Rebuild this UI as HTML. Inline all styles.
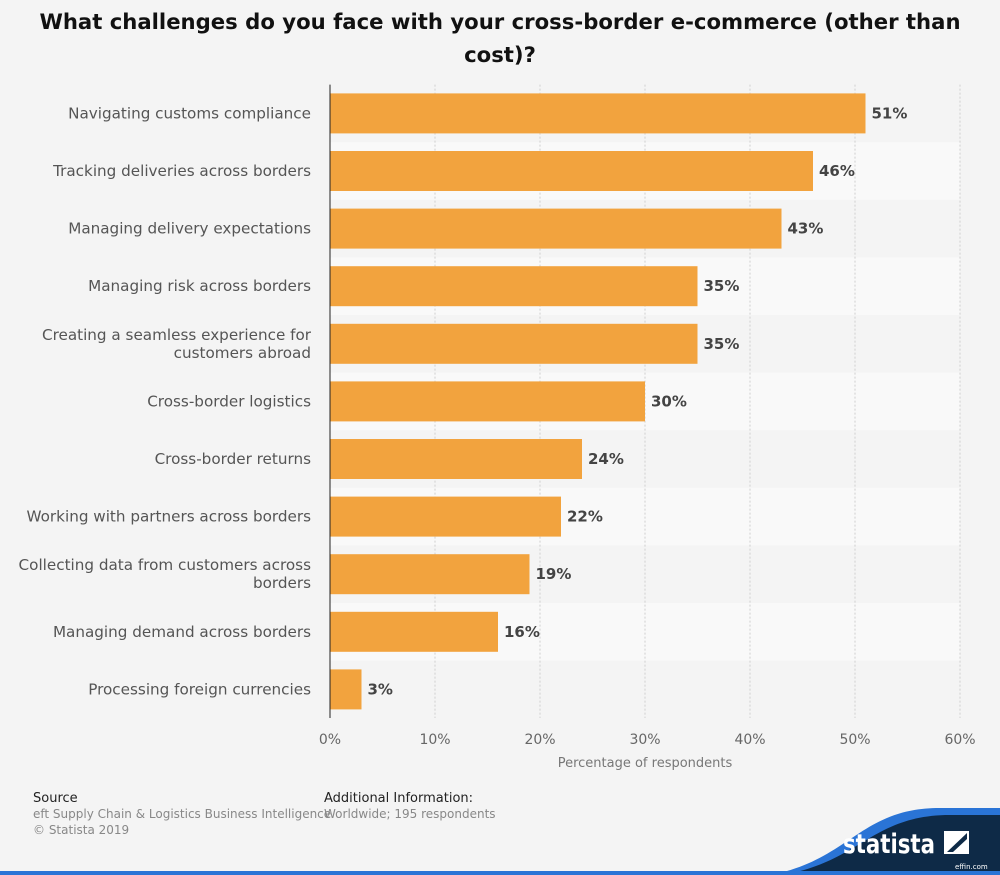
<!DOCTYPE html>
<html><head><meta charset="utf-8"><style>
body{margin:0;background:#f4f4f4;font-family:"DejaVu Sans","Liberation Sans",sans-serif;}
#wrap{position:relative;width:1000px;height:875px;overflow:hidden;background:#f4f4f4}
</style></head><body>
<div id="wrap">
<svg id="chart" width="1000" height="875" style="position:absolute;left:0;top:0"></svg>
</div>
<script>
const categories=["Navigating customs compliance","Tracking deliveries across borders","Managing delivery expectations","Managing risk across borders","Creating a seamless experience for|customers abroad","Cross-border logistics","Cross-border returns","Working with partners across borders","Collecting data from customers across|borders","Managing demand across borders","Processing foreign currencies"];
const values=[51,46,43,35,35,30,24,22,19,16,3];
const ticks=[0,10,20,30,40,50,60];
const NS="http://www.w3.org/2000/svg";
const svg=document.getElementById('chart');
const x0=330,x1=960,top0=84.6,step=57.6,barH=40;
const xs=v=>x0+(v/60)*(x1-x0);
const yc=i=>top0+step*i+step/2;
function mk(t,a,p){const e=document.createElementNS(NS,t);for(const k in a)e.setAttribute(k,a[k]);(p||svg).appendChild(e);return e;}
// title
let t=mk('text',{x:500,y:29,'text-anchor':'middle','font-size':21.2,'font-weight':'bold',fill:'#111'});
t.textContent="What challenges do you face with your cross-border e-commerce (other than";


t=mk('text',{x:500,y:62,'text-anchor':'middle','font-size':21.2,'font-weight':'bold',fill:'#111'});
t.textContent="cost)?";


// bands
categories.forEach((c,i)=>{if(i%2==1){const r=mk('rect',{x:x0,y:top0+step*i,width:x1-x0,height:step,fill:'#f9f9f9'});

}});
// grid
ticks.forEach(v=>{if(v>0){const l=mk('line',{x1:xs(v),x2:xs(v),y1:top0,y2:718,stroke:'#cfcfcf','stroke-dasharray':'2,2'});

}
const tx=mk('text',{x:xs(v),y:744,'text-anchor':'middle','font-size':14,fill:'#666'});tx.textContent=v+'%';

});
const at=mk('text',{x:645,y:767,'text-anchor':'middle','font-size':13,fill:'#777'});at.textContent="Percentage of respondents";


// bars
categories.forEach((c,i)=>{
const b=mk('rect',{x:x0,y:yc(i)-barH/2,width:xs(values[i])-x0,height:barH,fill:'#f2a33e'});


const v=mk('text',{x:xs(values[i])+6,y:yc(i)+5,'font-size':15,'font-weight':'bold',fill:'#444'});v.textContent=values[i]+'%';


const lines=c.split('|');
lines.forEach((ln,j)=>{const l=mk('text',{x:311,y:yc(i)+5+(j-(lines.length-1)/2)*18,'text-anchor':'end','font-size':15.2,fill:'#555'});l.textContent=ln;

});
});
const ax=mk('line',{x1:x0,x2:x0,y1:top0,y2:718,stroke:'#222','stroke-width':1});


// footer
function ft(x,y,s,txt,fill,name){const e=mk('text',{x:x,y:y,'font-size':s,fill:fill});e.textContent=txt;

}
ft(33,802,13,"Source","#222","source-heading");
ft(33,818,12,"eft Supply Chain & Logistics Business Intelligence","#888","source-text");
ft(33,834,12,"© Statista 2019","#888","copyright");
ft(324,802,13,"Additional Information:","#222","info-heading");
ft(324,818,12,"Worldwide; 195 respondents","#888","info-text");
const bl=mk('path',{d:'M770,875 C850,860 860,808 940,808 L1000,808 L1000,875 Z',fill:'#2a74d6'});


const nv=mk('path',{d:'M782,875 C860,862 872,815 950,815 L1000,815 L1000,875 Z',fill:'#0e2a47'});


const bb=mk('rect',{x:0,y:871,width:1000,height:4,fill:'#2a74d6'});


const lg=mk('text',{x:843,y:853,'font-size':27,'font-weight':'bold',fill:'#fff',textLength:92,lengthAdjust:'spacingAndGlyphs'});lg.textContent="statista";


const ic=mk('rect',{x:944,y:831,width:25,height:23,fill:'#fff'});


const ic2=mk('path',{d:'M947,852 L967,833 L967,839 L953,852 Z',fill:'#0e2a47'});


ft(955,869,7,"effin.com","#fff","watermark");
</script>
</body></html>
